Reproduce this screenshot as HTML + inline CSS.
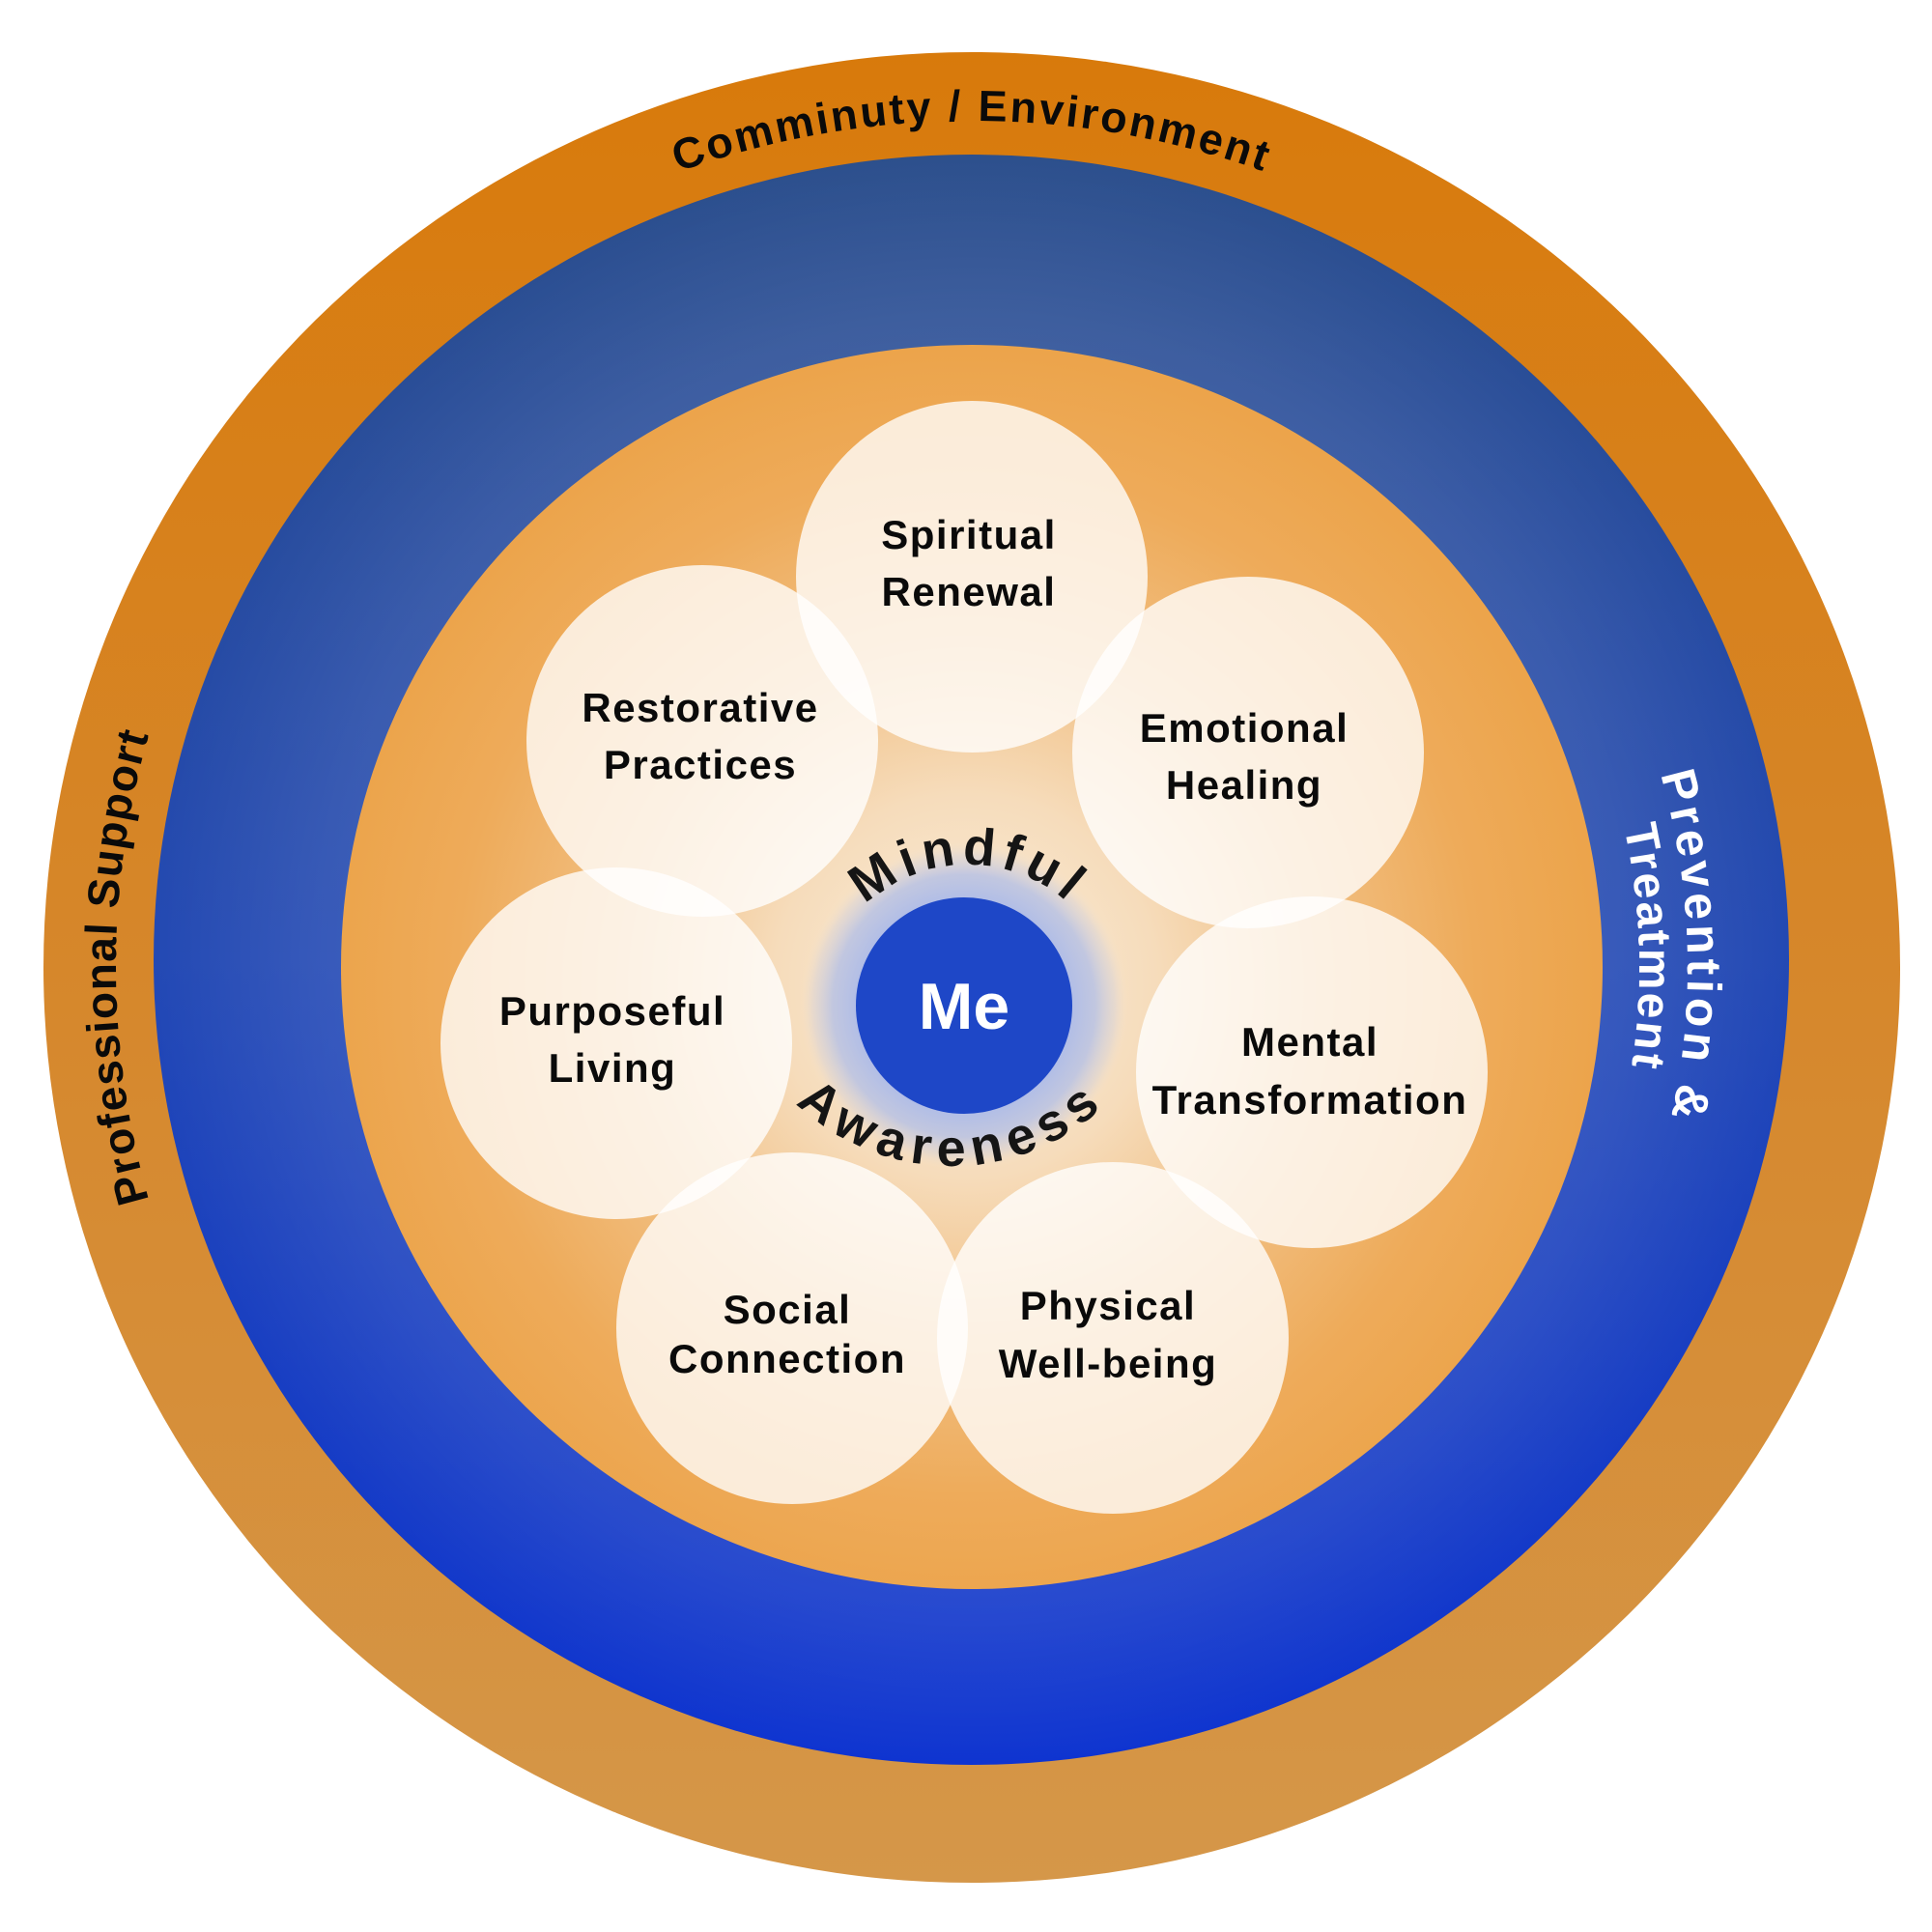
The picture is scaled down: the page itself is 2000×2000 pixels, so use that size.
<!DOCTYPE html>
<html>
<head>
<meta charset="utf-8">
<style>
  html,body{margin:0;padding:0;background:#ffffff;}
  svg{display:block;}
  .lbl{font-family:"Liberation Sans",Arial,sans-serif;font-weight:700;font-size:42px;letter-spacing:1.5px;fill:#0a0a0a;}
  .ring{font-family:"Liberation Sans",Arial,sans-serif;font-weight:700;}
</style>
</head>
<body>
<svg width="2000" height="2000" viewBox="0 0 2000 2000" xmlns="http://www.w3.org/2000/svg">
  <defs>
    <linearGradient id="outerG" x1="0" y1="0" x2="0" y2="1">
      <stop offset="0" stop-color="#d87a0b"/>
      <stop offset="0.5" stop-color="#d6872b"/>
      <stop offset="1" stop-color="#d59749"/>
    </linearGradient>
    <linearGradient id="blueG" x1="0" y1="0" x2="0" y2="1">
      <stop offset="0" stop-color="#2c4f8c"/>
      <stop offset="0.5" stop-color="#2349b4"/>
      <stop offset="1" stop-color="#0c32d0"/>
    </linearGradient>
    <radialGradient id="blueGlow" gradientUnits="userSpaceOnUse" cx="1006" cy="1001" r="846">
      <stop offset="0.7" stop-color="#ffffff" stop-opacity="0.12"/>
      <stop offset="0.8" stop-color="#ffffff" stop-opacity="0.09"/>
      <stop offset="1" stop-color="#ffffff" stop-opacity="0"/>
    </radialGradient>
    <radialGradient id="innerG" gradientUnits="userSpaceOnUse" cx="1000" cy="1020" r="660">
      <stop offset="0" stop-color="#faeedd"/>
      <stop offset="0.3" stop-color="#f6dcbb"/>
      <stop offset="0.55" stop-color="#f1bf82"/>
      <stop offset="0.8" stop-color="#eeab5a"/>
      <stop offset="1" stop-color="#eca44b"/>
    </radialGradient>
    <radialGradient id="halo" gradientUnits="userSpaceOnUse" cx="998" cy="1041" r="170">
      <stop offset="0" stop-color="#b2bee6"/>
      <stop offset="0.66" stop-color="#b2bee6"/>
      <stop offset="0.8" stop-color="#b8c2e4" stop-opacity="0.85"/>
      <stop offset="0.92" stop-color="#c9cde2" stop-opacity="0.35"/>
      <stop offset="1" stop-color="#f5e6d2" stop-opacity="0"/>
    </radialGradient>

    <path id="pTop" d="M 120 1001 A 886 876 0 0 1 1892 1001"/>
    <path id="pLeft" d="M 1006 1877 A 886 876 0 0 1 1006 125"/>
    <path id="pPrev" d="M 1006 270 A 741 731 0 0 1 1006 1732"/>
    <path id="pTreat" d="M 1006 320 A 691 681 0 0 1 1006 1682"/>
    <path id="pMind" d="M 847 1050 A 155 155 0 0 1 1157 1050"/>
    <path id="pAware" d="M 753 975 A 232 232 0 0 0 1217 975"/>
  </defs>

  <rect x="0" y="0" width="2000" height="2000" fill="#ffffff"/>

  <ellipse cx="1006" cy="1001.5" rx="961" ry="947.5" fill="url(#outerG)"/>
  <ellipse cx="1005.5" cy="993.5" rx="846.5" ry="833.5" fill="url(#blueG)"/>
  <ellipse cx="1005.5" cy="993.5" rx="846.5" ry="833.5" fill="url(#blueGlow)"/>
  <ellipse cx="1006" cy="1001" rx="653" ry="644" fill="url(#innerG)"/>

  <g fill="#ffffff" fill-opacity="0.78">
    <circle cx="1006" cy="597" r="182"/>
    <circle cx="727" cy="767" r="182"/>
    <circle cx="1292" cy="779" r="182"/>
    <circle cx="638" cy="1080" r="182"/>
    <circle cx="1358" cy="1110" r="182"/>
    <circle cx="820" cy="1375" r="182"/>
    <circle cx="1152" cy="1385" r="182"/>
  </g>

  <circle cx="998" cy="1041" r="170" fill="url(#halo)"/>
  <circle cx="998" cy="1041" r="112" fill="#1e47c7"/>
  <text x="998" y="1065" text-anchor="middle" class="ring" font-size="68" fill="#ffffff">Me</text>

  <text class="ring" font-size="54" fill="#151515" letter-spacing="6">
    <textPath href="#pMind" startOffset="50%" text-anchor="middle">Mindful</textPath>
  </text>
  <text class="ring" font-size="54" fill="#151515" letter-spacing="8">
    <textPath href="#pAware" startOffset="50%" text-anchor="middle">Awareness</textPath>
  </text>

  <g class="lbl" text-anchor="middle">
    <text x="1003" y="568">Spiritual</text>
    <text x="1003" y="627">Renewal</text>

    <text x="725" y="747">Restorative</text>
    <text x="725" y="806">Practices</text>

    <text x="1288" y="768">Emotional</text>
    <text x="1288" y="827">Healing</text>

    <text x="634" y="1061">Purposeful</text>
    <text x="634" y="1120">Living</text>

    <text x="1356" y="1093">Mental</text>
    <text x="1356" y="1153">Transformation</text>

    <text x="815" y="1370">Social</text>
    <text x="815" y="1421">Connection</text>

    <text x="1147" y="1366">Physical</text>
    <text x="1147" y="1426">Well-being</text>
  </g>

  <text class="ring" font-size="45" fill="#0a0a0a" letter-spacing="2.6">
    <textPath href="#pTop" startOffset="50%" text-anchor="middle">Comminuty / Environment</textPath>
  </text>
  <text class="ring" font-size="46" fill="#0a0a0a" letter-spacing="1.2">
    <textPath href="#pLeft" startOffset="50%" text-anchor="middle">Professional Support</textPath>
  </text>
  <text class="ring" font-size="50" fill="#ffffff" letter-spacing="4.5">
    <textPath href="#pPrev" startOffset="1135" text-anchor="middle">Prevention &amp;</textPath>
  </text>
  <text class="ring" font-size="48" fill="#ffffff" letter-spacing="2.5">
    <textPath href="#pTreat" startOffset="1057" text-anchor="middle">Treatment</textPath>
  </text>
</svg>
</body>
</html>
